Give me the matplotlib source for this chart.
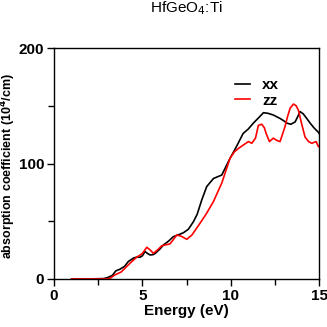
import matplotlib
matplotlib.use("Agg")
import matplotlib.pyplot as plt
from matplotlib.ticker import MultipleLocator

plt.rcParams['font.family'] = ['Liberation Sans', 'DejaVu Sans']

# xx spectrum (energy in eV, absorption in 10^4/cm)
xxE = [1.0, 2.0, 2.8, 3.0, 3.3, 3.5, 3.73, 4.0, 4.2, 4.49, 4.7, 4.87, 5.0, 5.15, 5.3, 5.43,
       5.6, 5.72, 6.0, 6.19, 6.5, 6.75, 7.0, 7.32, 7.6, 7.89, 8.1, 8.36, 8.64, 9.02, 9.49,
       9.96, 10.3, 10.7, 11.0, 11.28, 11.6, 11.85, 12.1, 12.41, 12.79, 13.0, 13.17, 13.4,
       13.64, 13.8, 13.92, 14.1, 14.3, 14.49, 14.7, 14.96, 15.0]
xxA = [0, 0, 0.3, 1, 3, 7, 8.4, 11, 15, 18, 19, 18.8, 20, 23.7, 22, 20.8,
       21, 22, 26, 29.4, 33, 36.6, 38, 40, 43, 49.6, 56, 68.4, 80, 87, 90,
       104.5, 114, 126, 130, 135, 140, 144, 143.5, 142, 139, 137, 135, 134,
       136, 141, 145, 143, 139, 135, 131, 127, 126]

# zz spectrum
zzE = [1.0, 2.0, 3.0, 3.2, 3.45, 3.8, 4.11, 4.4, 4.68, 5.0, 5.25, 5.45, 5.62, 5.85, 6.09,
       6.3, 6.56, 6.75, 6.94, 7.2, 7.51, 7.8, 8.26, 8.6, 9.02, 9.49, 9.96, 10.2, 10.43,
       10.71, 11.0, 11.19, 11.4, 11.56, 11.75, 11.9, 12.0, 12.19, 12.41, 12.6, 12.79,
       13.07, 13.2, 13.36, 13.55, 13.7, 13.83, 14.0, 14.2, 14.4, 14.58, 14.83, 14.96, 15.0]
zzA = [0, 0, 0, 0.8, 3.5, 6, 10.7, 15, 18.8, 22, 27.4, 25, 22.2, 25, 28.6,
       29.5, 30.3, 34, 38, 37, 34.3, 38, 48.2, 56, 67, 83, 104.5, 110, 113,
       116, 119, 117.5, 122, 133, 134, 131, 126, 119, 122, 120, 119,
       132, 140, 148, 151.5, 150, 146, 135, 123, 119, 117.5, 119, 114.5, 115]

fig = plt.figure(figsize=(3.27, 3.27), dpi=100)
ax = fig.add_axes([0.165, 0.147, 0.811, 0.706])

ax.plot(xxE, xxA, color='black', lw=1.2, label='xx')
ax.plot(zzE, zzA, color='red', lw=1.2, label='zz')

ax.set_xlim(0, 15)
ax.set_ylim(0, 200)
ax.xaxis.set_major_locator(MultipleLocator(5))
ax.xaxis.set_minor_locator(MultipleLocator(2.5))
ax.yaxis.set_major_locator(MultipleLocator(100))
ax.yaxis.set_minor_locator(MultipleLocator(50))
ax.tick_params(which='major', direction='out', length=5, width=1, labelsize=11, pad=2)
ax.tick_params(which='minor', direction='out', length=4, width=1)
for lab in ax.get_xticklabels() + ax.get_yticklabels():
    lab.set_fontweight('bold')
for s in ax.spines.values():
    s.set_linewidth(1)

ax.set_xlabel('Energy (eV)', fontsize=11, fontweight='bold', labelpad=1)
ax.set_ylabel('absorption coefficient (10$^{\\bf 4}$/cm)', fontsize=9, fontweight='bold')
ax.yaxis.set_label_coords(-0.135, 0.49)
ax.set_title('HfGeO$_{4}$:Ti', fontsize=11, pad=26)

ax.legend(loc='upper left', bbox_to_anchor=(0.63, 0.93), frameon=False,
          handlelength=1.0, handletextpad=0.8, labelspacing=0.1, prop={'weight': 'bold', 'size': 11})

fig.savefig('out.png', dpi=100)
